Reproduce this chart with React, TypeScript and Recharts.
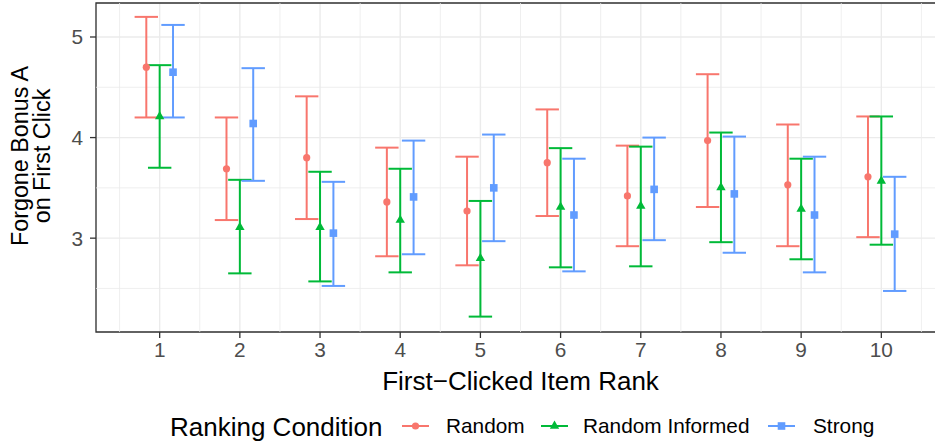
import React from 'react';
import {
    ComposedChart,
    Scatter,
    ErrorBar,
    XAxis,
    YAxis,
    CartesianGrid,
    ReferenceLine,
    ReferenceArea,
    Legend
} from 'recharts';

// item ranks on the x axis
const RANKS = [1, 2, 3, 4, 5, 6, 7, 8, 9, 10];

// Random
const randomMean = [4.70, 3.69, 3.80, 3.36, 3.27, 3.75, 3.42, 3.97, 3.53, 3.61];
const randomLow = [4.20, 3.18, 3.19, 2.82, 2.73, 3.22, 2.92, 3.31, 2.92, 3.01];
const randomHigh = [5.20, 4.20, 4.41, 3.90, 3.81, 4.28, 3.92, 4.63, 4.13, 4.21];

// Random Informed
const informedMean = [4.21, 3.11, 3.11, 3.18, 2.80, 3.31, 3.32, 3.505, 3.29, 3.57];
const informedLow = [3.70, 2.65, 2.57, 2.66, 2.22, 2.71, 2.72, 2.96, 2.79, 2.935];
const informedHigh = [4.72, 3.58, 3.66, 3.69, 3.37, 3.895, 3.91, 4.05, 3.79, 4.21];

// Strong
const strongMean = [4.65, 4.14, 3.05, 3.41, 3.50, 3.23, 3.485, 3.44, 3.23, 3.04];
const strongLow = [4.20, 3.57, 2.525, 2.84, 2.97, 2.67, 2.98, 2.855, 2.66, 2.475];
const strongHigh = [5.12, 4.69, 3.56, 3.97, 4.03, 3.79, 4.00, 4.01, 3.81, 3.61];

const Y_TICKS = [3, 4, 5];
const X_MINOR = [0.5, 1.5, 2.5, 3.5, 4.5, 5.5, 6.5, 7.5, 8.5, 9.5, 10.5];
const Y_MINOR = [2.5, 3.5, 4.5];

const X_DOMAIN: [number, number] = [0.206, 10.794];
const Y_DOMAIN: [number, number] = [2.067, 5.338];

const FONT = '"Liberation Sans", Arial, Helvetica, sans-serif';

// position_dodge(width = 0.5) with three groups
function buildSeries(mean: number[], low: number[], high: number[], shift: number) {
    return RANKS.map((r, i) => ({
        x: r + shift,
        y: mean[i],
        err: [mean[i] - low[i], high[i] - mean[i]]
    }));
}

const SERIES = [
    { name: 'Random', color: '#F8766D', shape: 'circle', data: buildSeries(randomMean, randomLow, randomHigh, -1 / 6) },
    { name: 'Random Informed', color: '#00BA38', shape: 'triangle', data: buildSeries(informedMean, informedLow, informedHigh, 0) },
    { name: 'Strong', color: '#619CFF', shape: 'square', data: buildSeries(strongMean, strongLow, strongHigh, 1 / 6) }
];

function Marker({ shape, cx, cy, color }: { shape: string; cx: number; cy: number; color: string }) {
    if (shape === 'triangle') {
        return <polygon points={`${cx},${cy - 5.4} ${cx - 4.7},${cy + 2.8} ${cx + 4.7},${cy + 2.8}`} fill={color} />;
    }
    if (shape === 'square') {
        return <rect x={cx - 3.8} y={cy - 3.8} width={7.6} height={7.6} fill={color} />;
    }
    return <circle cx={cx} cy={cy} r={3.6} fill={color} />;
}

// legend layout (px inside the legend strip)
const LEGEND_KEYS = [
    { keyX: 402, textX: 446 },
    { keyX: 541, textX: 583 },
    { keyX: 768, textX: 813 }
];

function renderLegend() {
    return (
        <svg width={935} height={40} style={{ display: 'block' }}>
            <text x={170} y={31} fontSize={26} fontFamily={FONT} fill="#000">Ranking Condition</text>
            {SERIES.map((s, i) => {
                const k = LEGEND_KEYS[i];
                return (
                    <g key={s.name}>
                        <line x1={k.keyX} x2={k.keyX + 27} y1={21} y2={21} stroke={s.color} strokeWidth={2} />
                        <Marker shape={s.shape} cx={k.keyX + 13.5} cy={21} color={s.color} />
                        <text x={k.textX} y={28} fontSize={20.8} fontFamily={FONT} fill="#000">{s.name}</text>
                    </g>
                );
            })}
        </svg>
    );
}

function XTitle(props: any) {
    const vb = props.viewBox;
    return (
        <text x={vb.x + vb.width / 2} y={390} textAnchor="middle" fontSize={26} fontFamily={FONT} fill="#000">
            First−Clicked Item Rank
        </text>
    );
}

function YTitle() {
    const cy = 156;
    return (
        <g fontSize={23.3} fontFamily={FONT} fill="#000" textAnchor="middle">
            <text x={28.3} y={cy} transform={`rotate(-90, 28.3, ${cy})`}>Forgone Bonus A</text>
            <text x={50} y={cy} transform={`rotate(-90, 50, ${cy})`}>on First Click</text>
        </g>
    );
}

export default function App() {
    return (
        <div style={{ position: 'absolute', left: 0, top: 0, width: 935, height: 445, overflow: 'hidden', background: '#fff' }}>
            <ComposedChart width={946} height={445} margin={{ top: 3, right: 1, bottom: 0, left: 0 }}>
                <CartesianGrid stroke="#EBEBEB" strokeWidth={1.4} />
                {X_MINOR.map(v => (
                    <ReferenceLine key={'vx' + v} x={v} stroke="#EBEBEB" strokeWidth={0.8} ifOverflow="hidden" />
                ))}
                {Y_MINOR.map(v => (
                    <ReferenceLine key={'hy' + v} y={v} stroke="#EBEBEB" strokeWidth={0.8} ifOverflow="hidden" />
                ))}
                <XAxis
                    type="number"
                    dataKey="x"
                    domain={X_DOMAIN}
                    ticks={RANKS}
                    allowDataOverflow
                    height={73}
                    axisLine={false}
                    tickSize={6}
                    tickMargin={4}
                    tickLine={{ stroke: '#333333', strokeWidth: 1.3 }}
                    tick={{ fill: '#4D4D4D', fontSize: 20.8, fontFamily: FONT }}
                    label={<XTitle />}
                />
                <YAxis
                    type="number"
                    dataKey="y"
                    domain={Y_DOMAIN}
                    ticks={Y_TICKS}
                    allowDataOverflow
                    width={96}
                    axisLine={false}
                    tickSize={6}
                    tickMargin={7}
                    tickLine={{ stroke: '#333333', strokeWidth: 1.3 }}
                    tick={{ fill: '#4D4D4D', fontSize: 20.8, fontFamily: FONT }}
                    label={<YTitle />}
                />
                {SERIES.map(s => (
                    <Scatter
                        key={s.name}
                        name={s.name}
                        data={s.data}
                        fill={s.color}
                        isAnimationActive={false}
                        shape={(p: any) => <Marker shape={s.shape} cx={p.cx} cy={p.cy} color={s.color} />}
                    >
                        <ErrorBar dataKey="err" direction="y" width={11.7} stroke={s.color} strokeWidth={2} isAnimationActive={false} />
                    </Scatter>
                ))}
                <ReferenceArea
                    x1={X_DOMAIN[0]}
                    x2={X_DOMAIN[1]}
                    y1={Y_DOMAIN[0]}
                    y2={Y_DOMAIN[1]}
                    fill="none"
                    fillOpacity={0}
                    stroke="#333333"
                    strokeWidth={1.3}
                    ifOverflow="visible"
                />
                <Legend
                    verticalAlign="bottom"
                    content={renderLegend}
                    wrapperStyle={{ left: 0, bottom: 0, width: 935, height: 40 }}
                />
            </ComposedChart>
        </div>
    );
}
